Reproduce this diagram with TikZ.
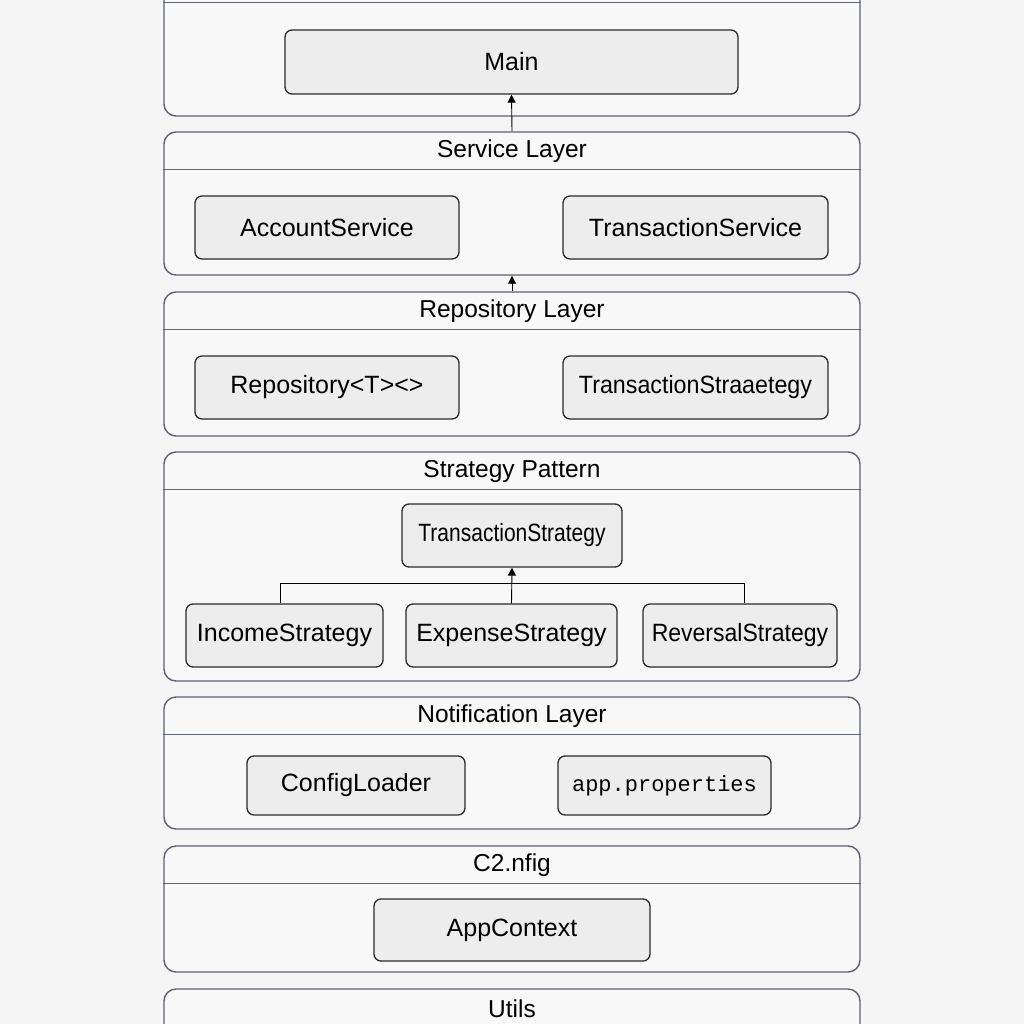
\documentclass[tikz,border=0pt]{standalone}
\usepackage{fontspec}
\setmainfont{Liberation Sans}
\setmonofont{Liberation Mono}
\usepackage{graphicx}
\usepackage{tikz}
\usetikzlibrary{positioning, calc}
\usetikzlibrary{arrows.meta}
\definecolor{pagebg}{HTML}{F5F5F5}
\definecolor{layerfill}{HTML}{F8F8F8}
\definecolor{layerline}{HTML}{5E6272}
\definecolor{boxfill}{HTML}{EDEDED}
\definecolor{boxline}{HTML}{2B2B2B}
\tikzstyle{layerbox}=[rectangle,rounded corners=12pt,draw=layerline,fill=layerfill,line width=1.4pt,minimum width=696pt]
\tikzstyle{divider}=[draw=layerline,line width=1.4pt]
\tikzstyle{layertitle}=[font=\fontsize{24.5}{28}\selectfont,text=black]
\tikzstyle{classbox}=[rectangle,rounded corners=7pt,draw=boxline,fill=boxfill,line width=1.3pt,font=\fontsize{25}{29}\selectfont,inner sep=0pt]
\tikzstyle{edgepath}=[line width=0.9pt,draw=black]
\tikzstyle{uparrow}=[edgepath,-{Triangle[length=8pt,width=8pt]}]

\begin{document}
\begin{tikzpicture}[x=1pt,y=-1pt]
        \useasboundingbox (0,0) rectangle (1024,1024);
        \clip (0,0) rectangle (1024,1024);
        \fill[pagebg] (0,0) rectangle (1024,1024);

        % layers
        \node[layerbox, minimum height=151pt] (top) at (512,40.5) {};
        \node[layerbox, minimum height=143pt] (svc) at (512,203.5) {};
        \node[layerbox, minimum height=144pt] (repl) at (512,364) {};
        \node[layerbox, minimum height=229pt] (stratl) at (512,566.5) {};
        \node[layerbox, minimum height=132pt] (notif) at (512,763) {};
        \node[layerbox, minimum height=126pt] (cfg) at (512,909) {};
        \node[layerbox, minimum height=71pt] (utils) at (512,1024.5) {};

        \foreach \l/\t in {top/,svc/Service Layer,repl/Repository Layer,stratl/Strategy Pattern,notif/Notification Layer,cfg/C2.nfig,utils/Utils}{
            \draw[divider] ([yshift=-38pt]\l.north west) -- ([yshift=-38pt]\l.north east);
            \node[layertitle] at ([yshift=-20pt]\l.north) {\t};
        }

        % classes
        \node[classbox, minimum width=453pt, minimum height=64pt] (main) at (511.5,62) {Main};
        \node[classbox, minimum width=264pt, minimum height=63pt] (accsvc) at (327,227.5) {AccountService};
        \node[classbox, minimum width=265pt, minimum height=63pt] (txsvc) at (695.5,227.5) {TransactionService};
        \node[classbox, minimum width=264pt, minimum height=63pt] (repo) at (327,387.5) {Repository<T><>};
        \node[classbox, minimum width=265pt, minimum height=63pt] (txstrag) at (695.5,387.5) {\scalebox{0.93}[1]{TransactionStraaetegy}};
        \node[classbox, minimum width=220pt, minimum height=63pt] (strat) at (512,535.5) {\scalebox{0.84}[1]{TransactionStrategy}};
        \node[classbox, minimum width=197pt, minimum height=63pt] (income) at (284.5,635.5) {IncomeStrategy};
        \node[classbox, minimum width=211pt, minimum height=63pt] (expense) at (511.5,635.5) {ExpenseStrategy};
        \node[classbox, minimum width=194pt, minimum height=63pt] (reversal) at (740,635.5) {\scalebox{0.92}[1]{ReversalStrategy}};
        \node[classbox, minimum width=218pt, minimum height=59pt] (cfgloader) at (356,785.5) {ConfigLoader};
        \node[classbox, minimum width=213pt, minimum height=59pt, font=\fontsize{22}{26}\selectfont\ttfamily] (appprops) at (664.5,785.5) {app.properties};
        \node[classbox, minimum width=276pt, minimum height=62pt] (appctx) at (512,930) {AppContext};

        % connectors
        \coordinate (bar) at (512,583);
        \draw[uparrow] (svc.north) -- (main.south);
        \draw[uparrow] (repl.north) -- (svc.south);
        \draw[edgepath] ([xshift=-4pt]income.north) -- ([xshift=-4pt]income.north |- bar)
            -- ([xshift=4pt]reversal.north |- bar) -- ([xshift=4pt]reversal.north);
        \draw[uparrow] (expense.north) -- (strat.south);
\end{tikzpicture}
\end{document}
